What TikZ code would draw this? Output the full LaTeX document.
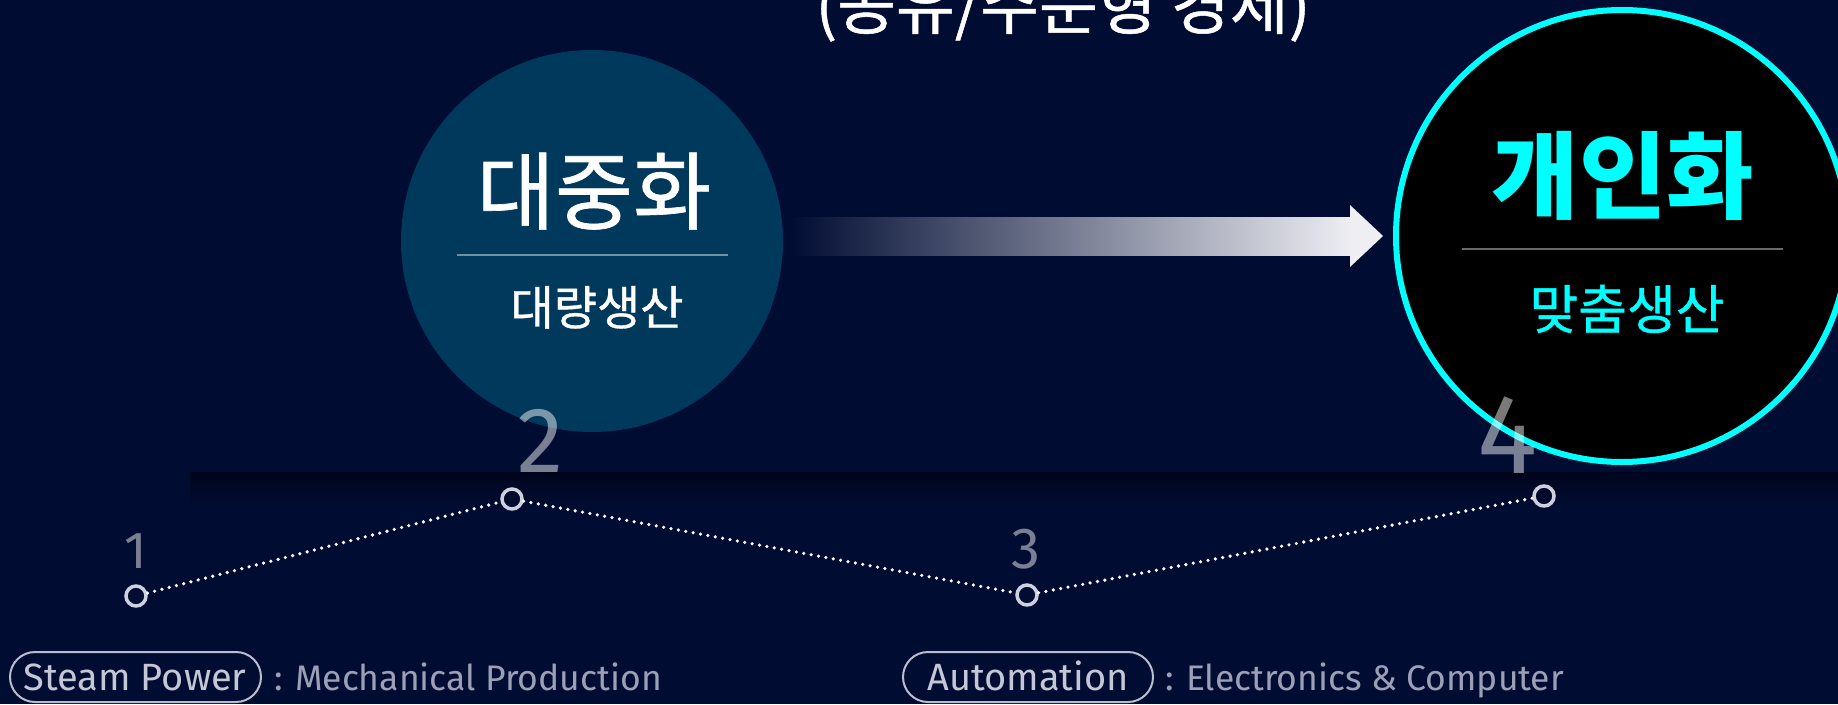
\documentclass[tikz,border=0pt]{standalone}
\usepackage{fontspec}
\setmainfont{Fira Sans}
\newfontfamily\kr{Noto Sans CJK KR}
\newfontfamily\krm[FakeBold=0.8]{Noto Sans CJK KR}
\definecolor{bg}{RGB}{0,12,50}
\definecolor{circA}{RGB}{0,57,92}
\definecolor{cyanc}{RGB}{0,255,255}
\definecolor{sepA}{RGB}{110,145,165}
\definecolor{sepB}{RGB}{105,105,105}
\definecolor{dotc}{RGB}{205,208,222}
\definecolor{pillc}{RGB}{185,189,206}
\definecolor{pilltext}{RGB}{196,199,214}
\definecolor{desctext}{RGB}{155,160,182}
\definecolor{arroww}{RGB}{238,238,243}
\definecolor{shadowc}{RGB}{0,5,28}
\begin{document}
\begin{tikzpicture}[x=1pt,y=-1pt,
  txt/.style={inner sep=0pt, outer sep=0pt, anchor=base},
  milestone/.style={circle, draw=dotc, line width=3.5pt, minimum size=20pt, inner sep=0pt},
  dotline/.style={white, line width=3.6pt, line cap=round, dash pattern=on 0pt off 7.5pt},
  numlabel/.style={txt, white, opacity=0.48},
  pill/.style={draw=pillc, line width=2pt, rounded corners=25pt, minimum height=50pt, inner sep=0pt},
  pilltxt/.style={txt, pilltext, font=\fontsize{38}{42}\selectfont},
  desc/.style={txt, anchor=base west, desctext, font=\fontsize{35.5}{40}\selectfont}]
\useasboundingbox (0,0) rectangle (1838,704);
\fill[bg] (0,0) rectangle (1838,704);
\shade[top color=shadowc, bottom color=bg] (190,472) rectangle (1838,507);

% title (cut off at top)
\node[txt, white, font=\krm\fontsize{64}{66}\selectfont] (title) at (1063,29) {(공유/주문형 경제)};

% circles
\node[circle, fill=circA, minimum size=382pt, inner sep=0pt] (mass) at (592,241) {};
\node[circle, fill=black, draw=cyanc, line width=6pt, minimum size=452pt, inner sep=0pt] (pers) at (1622,236) {};

% arrow
\shade[left color=bg, right color=arroww] (790,217) rectangle (1351,255);
\fill[arroww] (1350,205) -- (1383,236) -- (1350,267) -- cycle;

% circle texts
\node[txt, white, font=\krm\fontsize{85}{90}\selectfont] (massT) at (594,223) {대중화};
\draw[sepA, line width=1.6pt] (457,255) -- (728,255);
\node[txt, white, font=\krm\fontsize{47}{50}\selectfont] (massS) at (597,325) {대량생산};

\node[txt, cyanc, font=\kr\bfseries\fontsize{95}{100}\selectfont] (persT) at (1623,211) {개인화};
\draw[sepB, line width=2pt] (1462,249) -- (1783,249);
\node[txt, cyanc, font=\krm\fontsize{53}{56}\selectfont] (persS) at (1627,329) {맞춤생산};

% milestones
\node[milestone] (p1) at (136,596) {};
\node[milestone] (p2) at (512,499) {};
\node[milestone] (p3) at (1027,595) {};
\node[milestone] (p4) at (1544,496) {};
\draw[dotline] (p1) -- (p2);
\draw[dotline] (p2) -- (p3);
\draw[dotline] (p3) -- (p4);

\node[numlabel, font=\fontsize{52}{56}\selectfont] (n1) at (136,568) {1};
\node[numlabel, font=\fontsize{93}{96}\selectfont] (n2) at (541,472) {2};
\node[numlabel, font=\fontsize{58}{60}\selectfont] (n3) at (1026,568) {3};
\node[numlabel, font=\fontsize{113}{116}\selectfont] (n4) at (1508,473) {4};

% bottom legend
\node[pill, minimum width=251pt] (steam) at (135.5,677) {};
\node[pilltxt] (steamT) at (135,690) {Steam Power};
\node[desc] (steamD) at (274,690) {: Mechanical Production};
\node[pill, minimum width=250pt] (auto) at (1028,677) {};
\node[pilltxt] (autoT) at (1028,690) {Automation};
\node[desc] (autoD) at (1165,690) {: Electronics \& Computer};
\end{tikzpicture}
\end{document}
